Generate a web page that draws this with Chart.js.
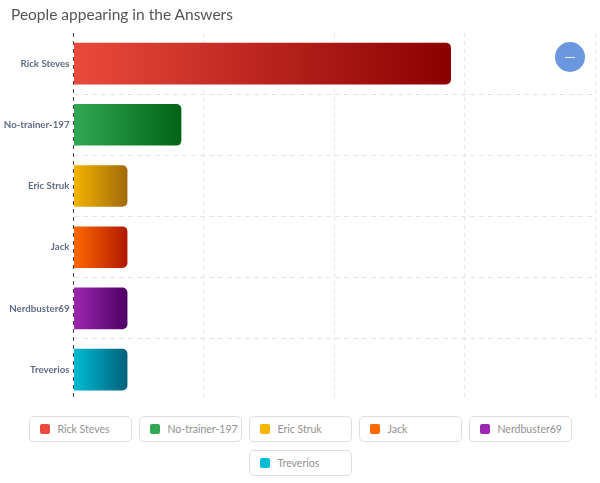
<!DOCTYPE html>
<html>
<head>
<meta charset="utf-8">
<script src="https://cdn.jsdelivr.net/npm/chart.js@4"></script>
<style>
  body { margin: 0; background: #fff; font-family: Lato, "Open Sans", sans-serif; }
  #wrap { position: relative; width: 600px; height: 483px; overflow: hidden; }
  #title { position: absolute; left: 11px; top: 5px; font-size: 15.5px; color: #555; }
  #cv { position: absolute; left: 0; top: 0; }
  #fab { position: absolute; left: 555px; top: 42px; width: 30px; height: 30px; border-radius: 50%; background: #6b97e0; }
  #fab:after { content: ""; position: absolute; left: 10px; top: 14.5px; width: 10px; height: 1px; background: #e8f0ff; }
  #legend { position: absolute; left: 0; top: 416px; width: 600px; display: flex; flex-wrap: wrap; justify-content: center; gap: 8px 7px; }
  .item { box-sizing: border-box; width: 103px; height: 26px; border: 1px solid #dedede; border-radius: 5px; display: flex; align-items: center; padding-left: 10px; font-size: 10.5px; color: #919191; }
  .sw { width: 10px; height: 10px; border-radius: 2px; margin-right: 8px; }
</style>
</head>
<body>
<div id="wrap">
  <canvas id="cv" width="600" height="410"></canvas>
  <div id="title">People appearing in the Answers</div>
  <div id="fab"></div>
  <div id="legend"></div>
</div>
<script>
var people = ["Rick Steves", "No-trainer-197", "Eric Struk", "Jack", "Nerdbuster69", "Treverios"];
var mentions = [7, 2, 1, 1, 1, 1];
var startColors = ["#ea4a3c", "#33a852", "#f4b400", "#ff6a00", "#9c27b0", "#00bcd4"];
var endColors = ["#8b0000", "#006414", "#a06a0a", "#b01800", "#4d0066", "#00607a"];

var legend = document.getElementById("legend");
people.forEach(function (name, i) {
    var d = document.createElement("div");
    d.className = "item";
    d.innerHTML = '<span class="sw" style="background:' + startColors[i] + '"></span>' + name;
    legend.appendChild(d);
});

new Chart("cv", {
    type: "bar",
    data: {
        labels: people,
        datasets: [{
            data: mentions,
            backgroundColor: function (c) {
                var chart = c.chart;
                if (!chart.chartArea || c.dataIndex === undefined) return startColors[0];
                var x0 = chart.chartArea.left;
                var x1 = chart.scales.x.getPixelForValue(mentions[c.dataIndex]);
                var g = chart.ctx.createLinearGradient(x0, 0, x1, 0);
                g.addColorStop(0, startColors[c.dataIndex]);
                g.addColorStop(1, endColors[c.dataIndex]);
                return g;
            },
            borderRadius: 5,
            borderSkipped: "start",
            barPercentage: 0.68,
            categoryPercentage: 1
        }]
    },
    options: {
        indexAxis: "y",
        responsive: false,
        animation: false,
        layout: { padding: { top: 33, right: 5, bottom: 8, left: 0 } },
        plugins: {
            legend: { display: false },
            title: { display: false },
            tooltip: { enabled: false }
        },
        scales: {
            x: {
                min: 0,
                max: 9.67,
                ticks: { display: false, count: 5 },
                grid: {
                    drawTicks: false,
                    color: function (c) { return c.index === 0 ? "#4a4a4a" : "#dfe5ee"; }
                },
                border: { display: false, dash: [4, 4] }
            },
            y: {
                afterFit: function (s) { s.width = 73.5; },
                ticks: {
                    padding: 4,
                    color: "#5f6b85",
                    font: { family: "Lato", size: 9.7, weight: "bold" }
                },
                grid: {
                    drawTicks: false,
                    color: function (c) {
                        return (c.index === 0 || c.index === undefined) ? "transparent" : "#dfe5ee";
                    }
                },
                border: { display: false, dash: [5, 4] }
            }
        }
    }
});
</script>
</body>
</html>
